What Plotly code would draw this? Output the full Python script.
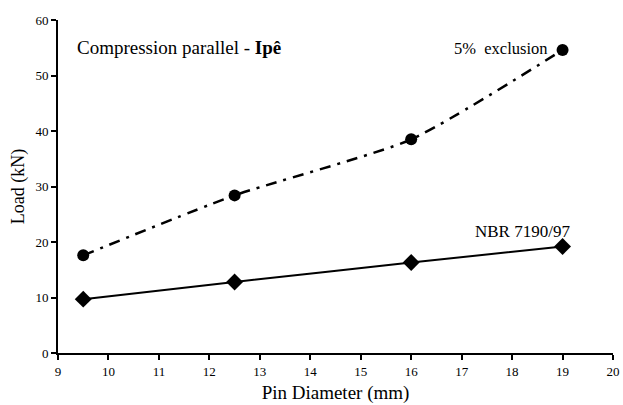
import plotly.graph_objects as go

diameters = [9.5, 12.5, 16, 19]
exclusion_5pct = [17.6, 28.4, 38.5, 54.6]
nbr_7190 = [9.7, 12.8, 16.3, 19.2]

font_family = "Liberation Serif"

fig = go.Figure()
fig.add_trace(go.Scatter(
    x=diameters, y=exclusion_5pct, mode="lines+markers",
    line=dict(color="black", width=2.5, dash="11px,7px,3px,7px", shape="spline", smoothing=0.6),
    marker=dict(symbol="circle", size=12, color="black"),
    showlegend=False))
fig.add_trace(go.Scatter(
    x=diameters, y=nbr_7190, mode="lines+markers",
    line=dict(color="black", width=2, shape="spline", smoothing=0.6),
    marker=dict(symbol="diamond", size=13, color="black"),
    showlegend=False))

fig.add_annotation(x=9.33, y=55, xref="x", yref="y", text="Compression parallel - <b>Ipê</b>",
                   showarrow=False, xanchor="left", yanchor="middle",
                   font=dict(family=font_family, size=19, color="black"))
fig.add_annotation(x=18.74, y=54.8, xref="x", yref="y", text="5%  exclusion",
                   showarrow=False, xanchor="right", yanchor="middle",
                   font=dict(family=font_family, size=16.5, color="black"))
fig.add_annotation(x=18.2, y=21.9, xref="x", yref="y", text="NBR 7190/97",
                   showarrow=False, xanchor="center", yanchor="middle",
                   font=dict(family=font_family, size=17, color="black"))

fig.update_layout(
    width=623, height=405,
    margin=dict(l=58, r=10, t=20, b=52),
    paper_bgcolor="white", plot_bgcolor="white",
    font=dict(family=font_family, color="black"),
)
fig.update_xaxes(range=[9, 20], dtick=1, showgrid=False, zeroline=False,
                 showline=True, linecolor="black", linewidth=2,
                 ticks="outside", ticklen=5, tickwidth=2, tickcolor="black",
                 automargin=False,
                 tickfont=dict(family=font_family, size=13, color="black"),
                 title=dict(text="Pin Diameter (mm)", font=dict(family=font_family, size=19, color="black"), standoff=8))
fig.update_yaxes(range=[0, 60], dtick=10, showgrid=False, zeroline=False,
                 showline=True, linecolor="black", linewidth=2,
                 ticks="outside", ticklen=5, tickwidth=2, tickcolor="black",
                 automargin=False,
                 tickfont=dict(family=font_family, size=13, color="black"),
                 title=dict(text="Load (kN)", font=dict(family=font_family, size=18, color="black"), standoff=6))

fig.write_html("out.html", config={"displayModeBar": False},
               post_script="document.body.style.margin='0';document.body.style.overflow='hidden';")
